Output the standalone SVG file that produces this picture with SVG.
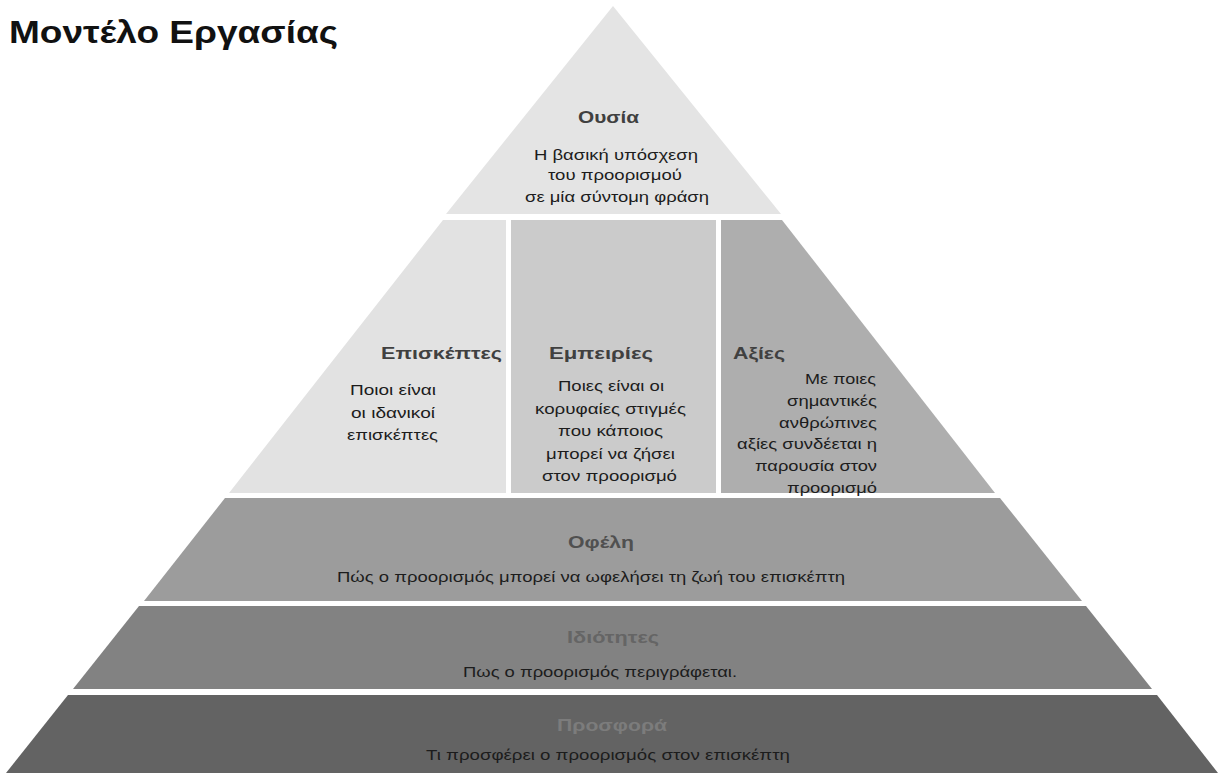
<svg xmlns="http://www.w3.org/2000/svg" width="1218" height="774" viewBox="0 0 1218 774">
<style>
text{font-family:"Liberation Sans",Arial,sans-serif;}
.h{font-weight:bold;font-size:17px;}
.b{font-size:14.5px;fill:#1c1c1c;}
.d{fill:#404040;}
</style>
<rect width="1218" height="774" fill="#ffffff"/>
<g id="title">
<text x="9" y="43" textLength="329" lengthAdjust="spacingAndGlyphs" style="font-weight:bold;font-size:31px;fill:#111">Μοντέλο Εργασίας</text>
</g>
<g id="ousia">
<polygon points="613,6 781,214 446,214" fill="#e4e4e4"/>
<text class="h d" x="578" y="123" textLength="61" lengthAdjust="spacingAndGlyphs">Ουσία</text>
<text class="b" x="534" y="160" textLength="164" lengthAdjust="spacingAndGlyphs">Η βασική υπόσχεση</text>
<text class="b" x="548" y="180" textLength="134" lengthAdjust="spacingAndGlyphs">του προορισμού</text>
<text class="b" x="525" y="202" textLength="184" lengthAdjust="spacingAndGlyphs">σε μία σύντομη φράση</text>
</g>
<g id="episkeptes">
<polygon points="443,220 506,220 506,493 229,493" fill="#e2e2e2"/>
<text class="h d" x="381" y="359" textLength="121" lengthAdjust="spacingAndGlyphs">Επισκέπτες</text>
<text class="b" x="350" y="395" textLength="86" lengthAdjust="spacingAndGlyphs">Ποιοι είναι</text>
<text class="b" x="351" y="418" textLength="84" lengthAdjust="spacingAndGlyphs">οι ιδανικοί</text>
<text class="b" x="347" y="440" textLength="91" lengthAdjust="spacingAndGlyphs">επισκέπτες</text>
</g>
<g id="empeiries">
<rect x="511" y="220" width="205" height="273" fill="#cbcbcb"/>
<text class="h d" x="549" y="359" textLength="104" lengthAdjust="spacingAndGlyphs">Εμπειρίες</text>
<text class="b" x="558" y="391" textLength="106" lengthAdjust="spacingAndGlyphs">Ποιες είναι οι</text>
<text class="b" x="535" y="413.5" textLength="151" lengthAdjust="spacingAndGlyphs">κορυφαίες στιγμές</text>
<text class="b" x="558" y="436" textLength="105" lengthAdjust="spacingAndGlyphs">που κάποιος</text>
<text class="b" x="546" y="458.5" textLength="129" lengthAdjust="spacingAndGlyphs">μπορεί να ζήσει</text>
<text class="b" x="542" y="481" textLength="135" lengthAdjust="spacingAndGlyphs">στον προορισμό</text>
</g>
<g id="axies">
<polygon points="721,220 782,220 995,493 721,493" fill="#aeaeae"/>
<text class="h d" x="733" y="359" textLength="52" lengthAdjust="spacingAndGlyphs">Αξίες</text>
<text class="b" x="805" y="384" textLength="71" lengthAdjust="spacingAndGlyphs">Με ποιες</text>
<text class="b" x="787" y="406" textLength="90" lengthAdjust="spacingAndGlyphs">σημαντικές</text>
<text class="b" x="779" y="427.5" textLength="98" lengthAdjust="spacingAndGlyphs">ανθρώπινες</text>
<text class="b" x="737" y="449" textLength="140" lengthAdjust="spacingAndGlyphs">αξίες συνδέεται η</text>
<text class="b" x="755" y="471" textLength="122" lengthAdjust="spacingAndGlyphs">παρουσία στον</text>
<text class="b" x="787" y="492.5" textLength="90" lengthAdjust="spacingAndGlyphs">προορισμό</text>
</g>
<g id="ofeli">
<polygon points="225,498 1000,498 1082,601 144,601" fill="#9c9c9c"/>
<text class="h" x="568" y="548" textLength="66" lengthAdjust="spacingAndGlyphs" fill="#505050">Οφέλη</text>
<text class="b" x="337" y="582" textLength="508" lengthAdjust="spacingAndGlyphs">Πώς ο προορισμός μπορεί να ωφελήσει τη ζωή του επισκέπτη</text>
</g>
<g id="idiotites">
<polygon points="139,606 1086,606 1152,689 73,689" fill="#828282"/>
<text class="h" x="567" y="643" textLength="92" lengthAdjust="spacingAndGlyphs" fill="#656565">Ιδιότητες</text>
<text class="b" x="463" y="677" textLength="274" lengthAdjust="spacingAndGlyphs">Πως ο προορισμός περιγράφεται.</text>
</g>
<g id="prosfora">
<polygon points="68,695 1157,695 1218,773 6,773" fill="#636363"/>
<text class="h" x="557" y="731" textLength="110" lengthAdjust="spacingAndGlyphs" fill="#7c7c7c">Προσφορά</text>
<text class="b" x="426" y="760" textLength="364" lengthAdjust="spacingAndGlyphs">Τι προσφέρει ο προορισμός στον επισκέπτη</text>
</g>
<g id="connectors"></g>
</svg>
